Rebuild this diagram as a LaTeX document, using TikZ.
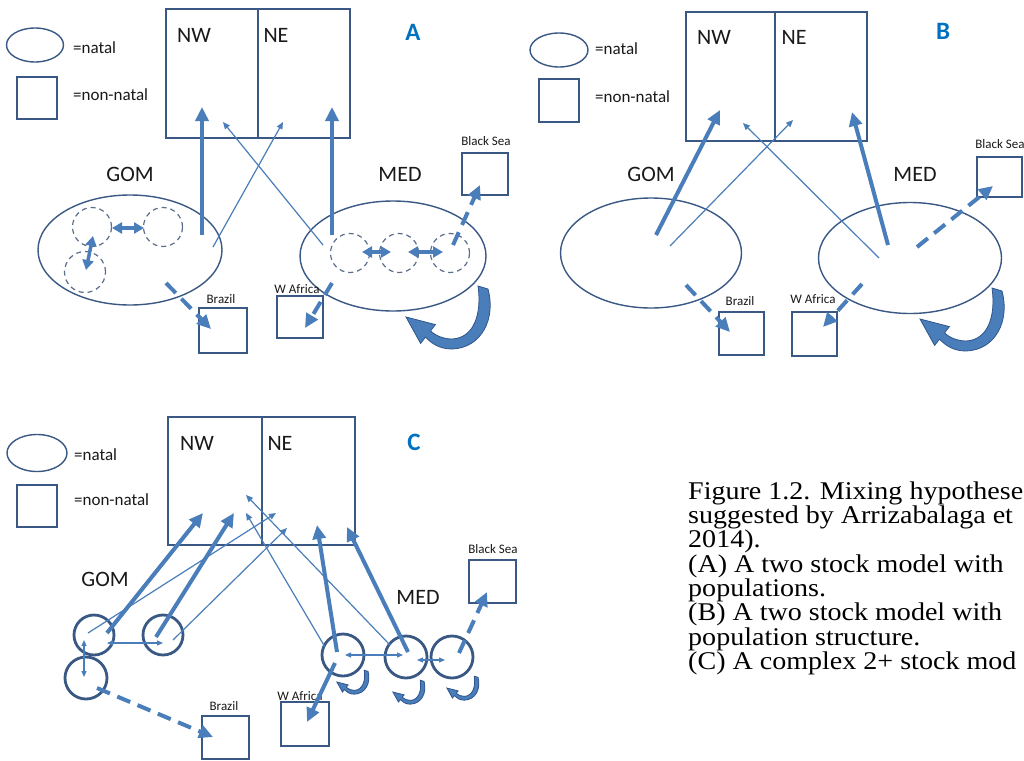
\documentclass[tikz,border=0pt]{standalone}
\usepackage{fontspec}
\setmainfont{Carlito}
\newfontfamily\capfont[FakeStretch=1.1]{Liberation Serif}
\usetikzlibrary{arrows.meta,shapes.geometric}
\definecolor{arr}{RGB}{74,126,187}
\definecolor{shp}{RGB}{58,88,132}
\definecolor{dshc}{RGB}{90,110,140}
\definecolor{lblue}{RGB}{0,112,192}
\definecolor{txt}{RGB}{25,25,25}
\definecolor{loopd}{RGB}{47,85,140}
\tikzset{
 every node/.style={text=txt},
 ell/.style={draw=shp, line width=1.4pt, ellipse, inner sep=0pt, outer sep=0pt},
 sq/.style={draw=shp, line width=1.4pt, rectangle, inner sep=0pt, outer sep=0pt},
 dcirc/.style={draw=dshc, line width=1.2pt, circle, dash pattern=on 5pt off 4pt, inner sep=0pt, minimum size=39pt},
 scirc/.style={draw=shp, line width=2.8pt, circle, inner sep=0pt, minimum size=40pt},
 lg/.style={font=\fontsize{17}{20}\selectfont, inner sep=0pt, anchor=base west},
 big/.style={font=\fontsize{22}{26}\selectfont, inner sep=0pt, anchor=base},
 sm/.style={font=\fontsize{13}{15}\selectfont, inner sep=0pt, anchor=base},
 pl/.style={font=\fontsize{25}{30}\selectfont\bfseries, text=lblue, inner sep=0pt, anchor=base},
 captxt/.style={font=\capfont\fontsize{25.5}{27}\selectfont, text=black, inner sep=0pt, anchor=base west},
 tk/.style={draw=arr, line width=4pt, -{Triangle[length=14pt,width=13pt]}},
 tn/.style={draw=arr, line width=1.2pt, -{Triangle[length=7pt,width=6pt]}},
 dsh/.style={tk, dash pattern=on 14pt off 8pt},
 dbl/.style={draw=arr, line width=3.5pt, {Triangle[length=10pt,width=11pt]}-{Triangle[length=10pt,width=11pt]}},
 dbln/.style={draw=arr, line width=1.2pt, {Triangle[length=6pt,width=5pt]}-{Triangle[length=6pt,width=5pt]}},
 pics/loopar/.style={code={
   \filldraw[fill=arr, draw=loopd, line width=0.8pt] (27,-31) -- (37,-28) .. controls (45,1) and (31,31) .. (1,32)
     .. controls (-11,32) and (-19,27) .. (-25.5,20.1) -- (-30.4,26.4) -- (-45,0) -- (-15.6,7.6) -- (-20.5,13.9)
     .. controls (-15,19) and (-7,22) .. (1,22) .. controls (23,21) and (31,-3) .. (27,-31) -- cycle;
 }},
}
\begin{document}
\begin{tikzpicture}[x=1pt,y=-1pt]
\useasboundingbox[fill=white] (0,0) rectangle (1024,760);

%%%%%%%%%%%%%%%% PANEL A
\node[ell, minimum width=57pt, minimum height=34pt] (aLe) at (35,45) {};
\node[lg] (aLet) at (73,53) {=natal};
\node[sq, minimum width=40pt, minimum height=42pt] (aLs) at (37,98) {};
\node[lg] (aLst) at (73,100) {=non-natal};
\node[sq, minimum width=92pt, minimum height=129pt, anchor=north west] (aNW) at (166,9) {};
\node[sq, minimum width=92pt, minimum height=129pt, anchor=north west] (aNE) at (258,9) {};
\node[big] (aNWt) at (194,43) {NW};
\node[big] (aNEt) at (276,43) {NE};
\node[pl] (aT) at (413,41) {A};
\node[big] (aGt) at (130,181) {GOM};
\node[big] (aMt) at (400,181) {MED};
\node[ell, minimum width=184pt, minimum height=110pt] (aG) at (130,250) {};
\node[ell, minimum width=186pt, minimum height=110pt] (aM) at (393,256) {};
\node[dcirc] (aG1) at (92,227) {};
\node[dcirc] (aG2) at (163,227) {};
\node[dcirc, minimum size=41pt] (aG3) at (85,272) {};
\node[dcirc] (aM1) at (350,253) {};
\node[dcirc] (aM2) at (399,253) {};
\node[dcirc] (aM3) at (450,253) {};
\node[sm] (aBSt) at (486,145) {Black Sea};
\node[sq, minimum width=46pt, minimum height=42pt] (aBS) at (485,174) {};
\node[sm] (aBRt) at (221,303) {Brazil};
\node[sq, minimum width=48pt, minimum height=45pt] (aBR) at (223,330.5) {};
\node[sm] (aWAt) at (297,293) {W Africa};
\node[sq, minimum width=46pt, minimum height=42pt] (aWA) at (300,317) {};
\coordinate (aP1) at (202,235); \coordinate (aQ1) at (202,107);
\coordinate (aP2) at (213,247); \coordinate (aQ2) at (283,122);
\coordinate (aP3) at (323,245); \coordinate (aQ3) at (223,122);
\coordinate (aP4) at (332,235); \coordinate (aQ4) at (332,107);
\coordinate (aP5) at (453,245); \coordinate (aQ5) at (480,185);
\coordinate (aP6) at (332,283); \coordinate (aQ6) at (305,328);
\coordinate (aP7) at (166,283); \coordinate (aQ7) at (211,329);
\coordinate (aD1) at (112,228); \coordinate (aE1) at (144,228);
\coordinate (aD2) at (93,236); \coordinate (aE2) at (86,270);
\coordinate (aD3) at (362,252); \coordinate (aE3) at (391,252);
\coordinate (aD4) at (408,252); \coordinate (aE4) at (443,252);
\draw[tk] (aP1) -- (aQ1);
\draw[tn] (aP2) -- (aQ2);
\draw[tn] (aP3) -- (aQ3);
\draw[tk] (aP4) -- (aQ4);
\draw[dsh] (aP5) -- (aQ5);
\draw[dsh] (aP6) -- (aQ6);
\draw[dsh] (aP7) -- (aQ7);
\draw[dbl] (aD1) -- (aE1);
\draw[dbl] (aD2) -- (aE2);
\draw[dbl] (aD3) -- (aE3);
\draw[dbl] (aD4) -- (aE4);
\pic (aLoop) at (451,317) {loopar};

%%%%%%%%%%%%%%%% PANEL B
\node[ell, minimum width=58pt, minimum height=34pt] (bLe) at (559,50) {};
\node[lg] (bLet) at (595,55) {=natal};
\node[sq, minimum width=40pt, minimum height=43pt] (bLs) at (559,100.5) {};
\node[lg] (bLst) at (595,102) {=non-natal};
\node[sq, minimum width=89pt, minimum height=129pt, anchor=north west] (bNW) at (686,12) {};
\node[sq, minimum width=92pt, minimum height=129pt, anchor=north west] (bNE) at (775,12) {};
\node[big] (bNWt) at (714,45) {NW};
\node[big] (bNEt) at (794,45) {NE};
\node[pl] (bT) at (943,40) {B};
\node[big] (bGt) at (651,181) {GOM};
\node[big] (bMt) at (915,181) {MED};
\node[ell, minimum width=181pt, minimum height=110pt] (bG) at (651,253) {};
\node[ell, minimum width=183pt, minimum height=111pt] (bM) at (910,258) {};
\node[sm] (bBSt) at (1000,148) {Black Sea};
\node[sq, minimum width=45pt, minimum height=40pt] (bBS) at (999.5,177) {};
\node[sm] (bBRt) at (740,305) {Brazil};
\node[sq, minimum width=45pt, minimum height=43pt] (bBR) at (741.5,333.5) {};
\node[sm] (bWAt) at (813,303) {W Africa};
\node[sq, minimum width=45pt, minimum height=44pt] (bWA) at (814.5,334) {};
\coordinate (bP1) at (656,235); \coordinate (bQ1) at (720,110);
\coordinate (bP2) at (670,246); \coordinate (bQ2) at (793,120);
\coordinate (bP3) at (879,258); \coordinate (bQ3) at (743,123);
\coordinate (bP4) at (888,245); \coordinate (bQ4) at (852,112);
\coordinate (bP5) at (917,247); \coordinate (bQ5) at (993,186);
\coordinate (bP6) at (686,285); \coordinate (bQ6) at (730,332);
\coordinate (bP7) at (862,284); \coordinate (bQ7) at (823,327);
\draw[tk] (bP1) -- (bQ1);
\draw[tn] (bP2) -- (bQ2);
\draw[tn] (bP3) -- (bQ3);
\draw[tk] (bP4) -- (bQ4);
\draw[dsh] (bP5) -- (bQ5);
\draw[dsh] (bP6) -- (bQ6);
\draw[dsh] (bP7) -- (bQ7);
\pic (bLoop) at (965,319) {loopar};

%%%%%%%%%%%%%%%% PANEL C
\node[ell, minimum width=60pt, minimum height=37pt] (cLe) at (37,453) {};
\node[lg] (cLet) at (74,460) {=natal};
\node[sq, minimum width=40pt, minimum height=42pt] (cLs) at (37,506) {};
\node[lg] (cLst) at (74,505) {=non-natal};
\node[sq, minimum width=94pt, minimum height=128pt, anchor=north west] (cNW) at (168,417) {};
\node[sq, minimum width=93pt, minimum height=128pt, anchor=north west] (cNE) at (262,417) {};
\node[big] (cNWt) at (197,450) {NW};
\node[big] (cNEt) at (280,450) {NE};
\node[pl] (cT) at (414,450) {C};
\node[big] (cGt) at (105,586) {GOM};
\node[big] (cMt) at (418,604) {MED};
\node[sm] (cBSt) at (493,553) {Black Sea};
\node[sq, minimum width=47pt, minimum height=43pt] (cBS) at (492.5,581.5) {};
\node[sm] (cBRt) at (224,710) {Brazil};
\node[sq, minimum width=47pt, minimum height=43pt] (cBR) at (225.5,737.5) {};
\node[sm] (cWAt) at (300,700) {W Africa};
\node[sq, minimum width=48pt, minimum height=44pt] (cWA) at (305,724) {};
\node[scirc] (cG1) at (94,635) {};
\node[scirc] (cG2) at (163,635) {};
\node[scirc, minimum size=42pt] (cG3) at (86,678) {};
\node[scirc, minimum size=42pt] (cM1) at (343,655) {};
\node[scirc, minimum size=42pt] (cM2) at (406,657) {};
\node[scirc, minimum size=42pt] (cM3) at (452,657) {};
\coordinate (cP1) at (107,633); \coordinate (cQ1) at (203,513);
\coordinate (cP2) at (156,637); \coordinate (cQ2) at (234,513);
\coordinate (cP3) at (88,633);  \coordinate (cQ3) at (276,513);
\coordinate (cP4) at (173,640); \coordinate (cQ4) at (287,528);
\coordinate (cP5) at (325,647); \coordinate (cQ5) at (246,513);
\coordinate (cP6) at (390,645); \coordinate (cQ6) at (246,495);
\coordinate (cP7) at (337,652); \coordinate (cQ7) at (317,525);
\coordinate (cP8) at (408,652); \coordinate (cQ8) at (347,527);
\coordinate (cP9) at (335,663); \coordinate (cQ9) at (307,722);
\coordinate (cP10) at (459,653); \coordinate (cQ10) at (487,592);
\coordinate (cP11) at (97,688); \coordinate (cQ11) at (213,737);
\coordinate (cD1) at (107,643); \coordinate (cE1) at (163,643);
\coordinate (cD2) at (84,677); \coordinate (cE2) at (84,640);
\coordinate (cD3) at (345,655); \coordinate (cE3) at (403,655);
\coordinate (cD4) at (417,660); \coordinate (cE4) at (445,660);
\draw[tk] (cP1) -- (cQ1);
\draw[tk] (cP2) -- (cQ2);
\draw[tn] (cP3) -- (cQ3);
\draw[tn] (cP4) -- (cQ4);
\draw[tn] (cP5) -- (cQ5);
\draw[tn] (cP6) -- (cQ6);
\draw[tk] (cP7) -- (cQ7);
\draw[tk] (cP8) -- (cQ8);
\draw[tk] (cP9) -- (cQ9);
\draw[dsh] (cP10) -- (cQ10);
\draw[dsh] (cP11) -- (cQ11);
\draw[dbln] (cD1) -- (cE1);
\draw[dbln] (cD2) -- (cE2);
\draw[dbln] (cD3) -- (cE3);
\draw[dbln] (cD4) -- (cE4);
\pic[scale=0.38] (cL1) at (354,682) {loopar};
\pic[scale=0.38] (cL2) at (410,692) {loopar};
\pic[scale=0.38] (cL3) at (464,688) {loopar};

%%%%%%%%%%%%%%%% CAPTION
\node[captxt] (k1) at (688,499) {Figure 1.2. Mixing hypothese};
\node[captxt] (k2) at (688,523) {suggested by Arrizabalaga et};
\node[captxt] (k3) at (688,547) {2014).};
\node[captxt] (k4) at (688,572) {(A) A two stock model with};
\node[captxt] (k5) at (688,596) {populations.};
\node[captxt] (k6) at (688,620) {(B) A two stock model with};
\node[captxt] (k7) at (688,645) {population structure.};
\node[captxt] (k8) at (688,669) {(C) A complex 2+ stock mod};
\end{tikzpicture}
\end{document}
